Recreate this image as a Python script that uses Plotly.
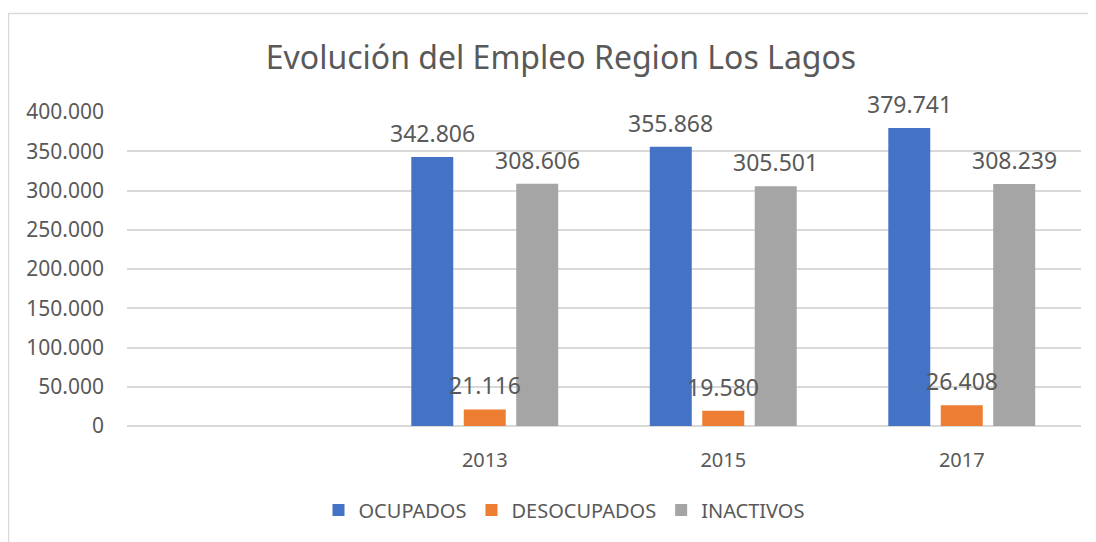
import plotly.graph_objects as go

YEARS = ["2013", "2015", "2017"]
OCUPADOS = [342806, 355868, 379741]
DESOCUPADOS = [21116, 19580, 26408]
INACTIVOS = [308606, 305501, 308239]
Y_TICKS = [0, 50000, 100000, 150000, 200000, 250000, 300000, 350000, 400000]

TEXT = "#595959"
GRID = "#d9d9d9"
FONT = "Noto Sans"

series = [
    ("OCUPADOS", OCUPADOS, "#4472C4"),
    ("DESOCUPADOS", DESOCUPADOS, "#ED7D31"),
    ("INACTIVOS", INACTIVOS, "#A5A5A5"),
]


def fmt(v):
    return f"{v:,}".replace(",", ".")


fig = go.Figure()
for name, vals, color in series:
    fig.add_trace(go.Bar(x=YEARS, y=vals, name=name, marker=dict(color=color, line_width=0)))

# value labels sit a bit higher above the bars than plotly's "outside" text
# (category index used for x: numeric-looking strings get read as positions)
for i, (name, vals, color) in enumerate(series):
    for j, v in enumerate(vals):
        fig.add_annotation(
            x=j, y=v, text=fmt(v), showarrow=False,
            xshift=(i - 1) * 52.5, yshift=24, yanchor="middle",
            font=dict(family=FONT, size=23, color=TEXT),
        )

# outer chart frame (cropped on the right and bottom); page has an 8px body margin
fig.add_shape(
    type="rect", xref="paper", yref="paper",
    x0=(8.5 - 127) / 954, x1=1.2, y0=-0.6, y1=(426 - 13.5) / 314,
    line=dict(color=GRID, width=1.5), layer="below",
)

fig.update_layout(
    width=1088, height=534,
    paper_bgcolor="white", plot_bgcolor="white",
    margin=dict(l=119, r=15, t=104, b=116),
    separators=",.",
    barmode="group", bargap=0.34, bargroupgap=0.2,
    title=dict(
        text="Evolución del Empleo Region Los Lagos",
        x=(561 - 8) / 1088, xanchor="center", y=1 - (58 - 8) / 534, yanchor="middle",
        font=dict(family=FONT, size=32, color=TEXT),
    ),
    font=dict(family=FONT, color=TEXT),
    xaxis=dict(
        type="category", range=[-1.5, 2.5], showgrid=False, showline=False,
        ticks="", ticklabelstandoff=20, tickfont=dict(size=20, color=TEXT),
    ),
    yaxis=dict(
        range=[0, 400000], tickvals=Y_TICKS, tickformat=",d",
        gridcolor=GRID, gridwidth=1.5, zeroline=True, zerolinecolor=GRID, zerolinewidth=1.5,
        showline=False, ticks="", ticklabelstandoff=22,
        tickfont=dict(size=21, color=TEXT),
    ),
    legend=dict(
        orientation="h", x=(564 - 127) / 954, xanchor="center", y=-(510 - 426) / 314,
        yanchor="middle", font=dict(size=20, color=TEXT), itemwidth=30,
    ),
)

fig.write_html("out.html")
